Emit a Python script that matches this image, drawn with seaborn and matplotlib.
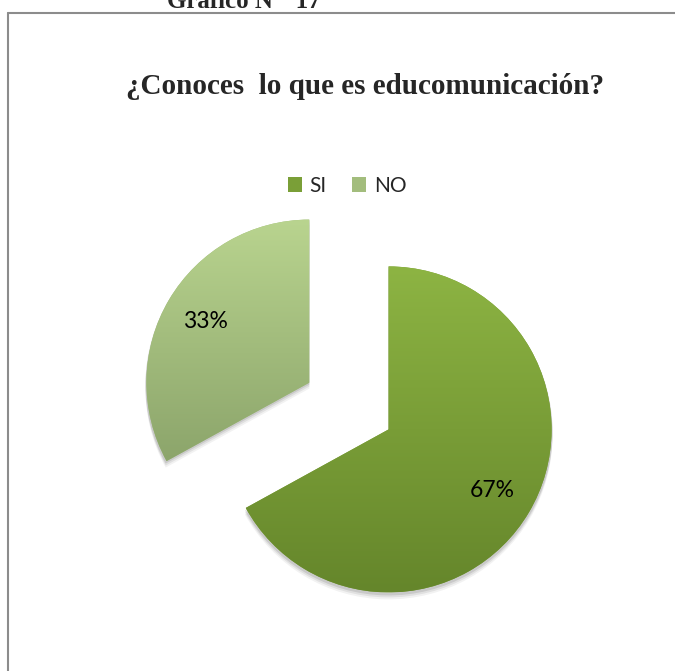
import numpy as np
import matplotlib
matplotlib.use("Agg")
import matplotlib.pyplot as plt
import matplotlib.patches as mpatches
from matplotlib.colors import LinearSegmentedColormap
import seaborn as sns

sns.set_theme(style="white")
plt.rcParams["font.family"] = ["Lato", "DejaVu Sans"]

# --------------------------------------------------
# data
# --------------------------------------------------
labels = ["SI", "NO"]
values = [67, 33]
top_colors = ["#8db443", "#b9d48f"]
bottom_colors = ["#65862b", "#8ca56b"]
mid_colors = ["#7a9f37", "#a3bd7d"]

heading = "Gráfico N°  17"
title = "¿Conoces  lo que es educomunicación?"

W, H = 675, 671

fig = plt.figure(figsize=(W / 100, H / 100), dpi=100)
ax = fig.add_axes([0, 0, 1, 1])

wedges, texts, autotexts = ax.pie(
    values,
    center=(349, H - 406),
    radius=163,
    startangle=90,
    counterclock=False,
    explode=[46, 46],
    colors=mid_colors,
    autopct="%1.0f%%",
    pctdistance=0.74,
    wedgeprops=dict(linewidth=0),
    textprops=dict(fontsize=16.5, color="black", family=["Lato", "DejaVu Sans"]),
)

# soft shadow under the slices
for w in wedges:
    for k, a in [(6, 0.05), (4, 0.07), (2, 0.10)]:
        sh = mpatches.Wedge((w.center[0], w.center[1] - k), w.r + 1, w.theta1, w.theta2,
                            facecolor="black", alpha=a, linewidth=0, zorder=0.5)
        ax.add_patch(sh)

# vertical gradient fill clipped to each slice
grad = np.linspace(0, 1, 256).reshape(-1, 1)
for w, c_top, c_bot in zip(wedges, top_colors, bottom_colors):
    ext = w.get_path().get_extents()
    cmap = LinearSegmentedColormap.from_list("g", [c_bot, c_top])
    im = ax.imshow(grad, extent=[ext.x0, ext.x1, ext.y0, ext.y1], origin="lower",
                   cmap=cmap, aspect="auto", zorder=w.get_zorder() + 0.1)
    im.set_clip_path(w)

for t in autotexts:
    t.set_zorder(5)

ax.legend(wedges, labels, loc="center", bbox_to_anchor=(347 / W, 1 - 186 / H),
          bbox_transform=fig.transFigure, ncol=2, frameon=False,
          handlelength=0.7, handleheight=0.7, handletextpad=0.35,
          columnspacing=1.2, prop=dict(family="Lato", size=15))

ax.text(365, H - 87, title, ha="center", va="center", fontsize=21,
        fontweight="bold", family="Liberation Serif")
ax.text(244, H - 8, heading, ha="center", va="baseline", fontsize=18,
        fontweight="bold", family="Liberation Serif")

# chart frame
ax.plot([8, 8], [0, H - 13], color="#8c8c8c", lw=1.5, clip_on=False, zorder=6)
ax.plot([8, W], [H - 13, H - 13], color="#8c8c8c", lw=1.5, clip_on=False, zorder=6)

ax.set_xlim(0, W)
ax.set_ylim(0, H)
ax.set_aspect("auto")
ax.axis("off")

fig.savefig("out.png", dpi=100)
